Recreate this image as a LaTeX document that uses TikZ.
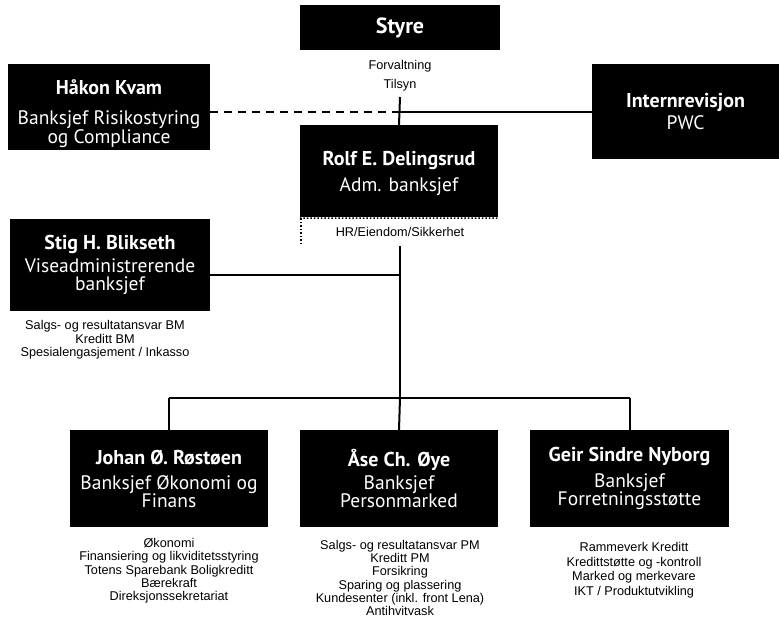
\documentclass[tikz,border=0pt]{standalone}
\usepackage{fontspec}
\setmainfont{Liberation Sans}
\newfontfamily\boxfont{PT Sans}
\usetikzlibrary{positioning}
% #1 extra height above the name (moves the text down), #2 gap
\newcommand\orgbox[4][0pt]{{\fontsize{20}{20}\selectfont\bfseries
  \rule{0pt}{\dimexpr14pt+#1\relax}#3}\\[#2]#4}
\begin{document}
\begin{tikzpicture}[x=1pt, y=-1pt,
  orgbox/.style={fill=black, text=white, inner sep=0pt, align=center,
    font=\boxfont\fontsize{19.5}{18}\selectfont},
  duty/.style={align=center, inner sep=0pt, font=\fontsize{12.7}{13.3}\selectfont},
  link/.style={line width=2pt}]
\useasboundingbox (0,0) rectangle (779,622);
% top level
\node[orgbox, minimum width=200pt, minimum height=45pt] (styre) at (400,27.5)
  {\fontsize{22}{22}\selectfont\bfseries Styre};
\node[duty, font=\fontsize{12.7}{19}\selectfont] (forv) at (400,76) {Forvaltning\\Tilsyn};
\node[orgbox, minimum width=202pt, minimum height=86pt] (hakon) at (109,107)
  {\orgbox[15pt]{12pt}{Håkon Kvam}{Banksjef Risikostyring\\og Compliance}};
\node[orgbox, minimum width=187pt, minimum height=95pt] (intern) at (685.5,111.5)
  {\orgbox{2pt}{Internrevisjon}{PWC}};
\node[orgbox, minimum width=198pt, minimum height=92pt] (rolf) at (399,171)
  {\orgbox[6pt]{7pt}{Rolf E. Delingsrud}{Adm. banksjef}};
\node[duty] (hr) at (400,232) {HR/Eiendom/Sikkerhet};
% second level
\node[orgbox, minimum width=200pt, minimum height=92pt] (stig) at (110,265)
  {\orgbox{4pt}{Stig H. Blikseth}{Viseadministrerende\\banksjef}};
\node[duty] (stigduty) at (105,340)
  {Salgs- og resultatansvar BM\\Kreditt BM\\Spesialengasjement / Inkasso};
% bottom level
\node[orgbox, minimum width=198pt, minimum height=97pt] (johan) at (169,478.5)
  {\orgbox{7pt}{Johan Ø. Røstøen}{Banksjef Økonomi og\\Finans}};
\node[orgbox, minimum width=198pt, minimum height=97pt] (ase) at (399,478.5)
  {\orgbox{5pt}{Åse Ch. Øye}{Banksjef\\Personmarked}};
\node[orgbox, minimum width=199pt, minimum height=97pt] (geir) at (629.5,478.5)
  {\orgbox{7pt}{Geir Sindre Nyborg}{Banksjef\\Forretningsstøtte}};
\node[duty] (johanduty) at (169,571)
  {Økonomi\\Finansiering og likviditetsstyring\\Totens Sparebank Boligkreditt\\Bærekraft\\Direksjonssekretariat};
\node[duty] (aseduty) at (400,578)
  {Salgs- og resultatansvar PM\\Kreditt PM\\Forsikring\\Sparing og plassering\\Kundesenter (inkl. front Lena)\\Antihvitvask};
\node[duty, font=\fontsize{12.7}{14.5}\selectfont] (geirduty) at (634,570)
  {Rammeverk Kreditt\\Kredittstøtte og -kontroll\\Marked og merkevare\\IKT / Produktutvikling};
% connectors
\coordinate (board) at (400,97);
\coordinate (audit) at (400,112);
\coordinate (trunk) at (400,246);
\coordinate (deputy) at (400,275);
\coordinate (bar) at (400,398);
\draw[link] (board) -- (rolf.north);
\draw[link, dash pattern=on 8pt off 6pt] (hakon.east |- audit) -- (audit);
\draw[link] (audit) -- (intern.west |- audit);
\draw[line width=1.5pt, dotted] (rolf.south west) ++(1,1) -- ++(0,27);
\draw[line width=1.5pt, dotted] (rolf.south west) ++(0,1) -- (rolf.south east |- 0,218);
\draw[link] (trunk) -- (bar);
\draw[link] (stig.east |- deputy) -- (deputy);
\draw[link] (johan.north |- bar) -- (geir.north |- bar);
\draw[link] (johan.north |- bar) -- (johan.north);
\draw[link] (bar) -- (ase.north);
\draw[link] (geir.north |- bar) -- (geir.north);
\end{tikzpicture}
\end{document}
